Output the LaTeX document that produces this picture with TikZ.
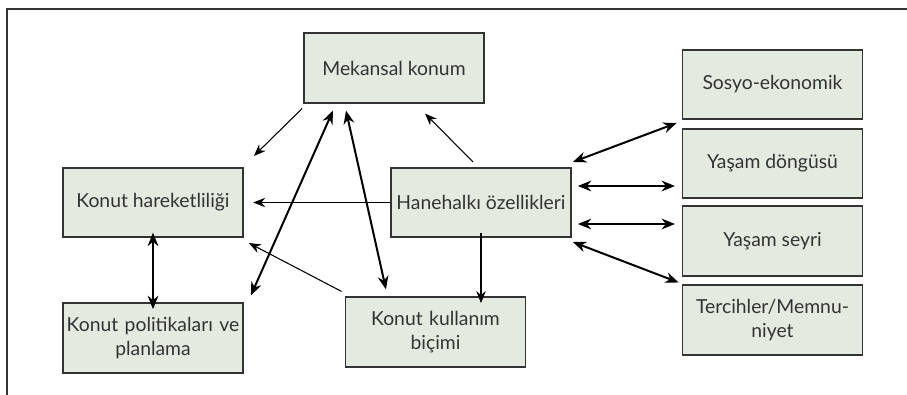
\documentclass[tikz,border=0pt]{standalone}
\usepackage{fontspec}
\setmainfont{Lato}
\usepackage{tikz}
\usetikzlibrary{arrows.meta,positioning,calc}
\definecolor{KutuFill}{HTML}{E3EBE0}
\definecolor{KutuLine}{HTML}{333333}
\definecolor{YaziGray}{HTML}{333333}

\tikzset{
  kutu/.style={draw=KutuLine, fill=KutuFill, line width=1.3pt, minimum width=135pt,
    minimum height=52pt, inner sep=1pt, align=center, text=YaziGray,
    font=\fontsize{14.5}{18}\selectfont},
  ince/.style={-{Stealth[length=9pt,width=7pt]}, line width=0.8pt, black},
  kalin/.style={{Stealth[length=10pt,width=8pt]}-{Stealth[length=10pt,width=8pt]}, line width=1.5pt, black}
}

\begin{document}
\begin{tikzpicture}[x=0.75pt,y=-0.75pt]
      \useasboundingbox (0,0) rectangle (907,395);
      % open frame
      \draw[KutuLine, line width=0.8pt] (907,9) -- (7,9) -- (7,395);

      \node[kutu] (mekan) at (394,68) {Mekansal konum};
      \node[kutu] (hareket) at (153,202.5) {Konut hareketliliği};
      \node[kutu] (hane) at (481,202.5) {Hanehalkı özellikleri};
      \node[kutu, text width=132pt] (politika) at (153,338) {Konut politikaları ve\\planlama};
      \node[kutu, text width=132pt] (kullanim) at (435.5,332) {Konut kullanım\\biçimi};

      \node[kutu] (sosyo) at (772.5,84.5) {Sosyo-ekonomik};
      \node[kutu] (dongu) at (772.5,163.5) {Yaşam döngüsü};
      \node[kutu] (seyri) at (772.5,241) {Yaşam seyri};
      \node[kutu, text width=132pt] (tercih) at (772.5,320) {Tercihler/Memnu-\\niyet};

      \coordinate (d1) at ([shift={(6,-16.5)}]hane.east);
      \coordinate (s1) at ([shift={(6,21.5)}]hane.east);

      % tek yonlu oklar
      \draw[ince] ([shift={(-1,5)}]mekan.south west) -- ([shift={(10,-11)}]hareket.north east);
      \draw[ince] ([shift={(-8,-5)}]hane.north) -- ([shift={(31,10)}]mekan.south);
      \draw[ince] (hane.west) -- ([xshift=7]hareket.east);
      \draw[ince] ([shift={(-3,-5)}]kullanim.north west) -- ([shift={(5,5)}]hareket.south east);
      \draw[ince] ([yshift=4]hane.south) -- ([yshift=-5]hane.south |- kullanim.north);

      % cift yonlu oklar
      \draw[kalin] ([yshift=4]hareket.south) -- ([yshift=-5]politika.north);
      \draw[kalin] ([shift={(-61,7)}]mekan.south) -- ([shift={(7,-7)}]politika.north east);
      \draw[kalin] ([shift={(-48,7)}]mekan.south) -- ([shift={(-49.5,-7)}]kullanim.north);
      \draw[kalin] ([shift={(1,-5)}]hane.north east) -- ([shift={(-5,3)}]sosyo.south west);
      \draw[kalin] (d1) -- ([xshift=-5]d1 -| dongu.west);
      \draw[kalin] (s1) -- ([xshift=-5]s1 -| seyri.west);
      \draw[kalin] ([shift={(1,4)}]hane.south east) -- ([shift={(-3,-2)}]tercih.north west);
    \end{tikzpicture}
\end{document}
